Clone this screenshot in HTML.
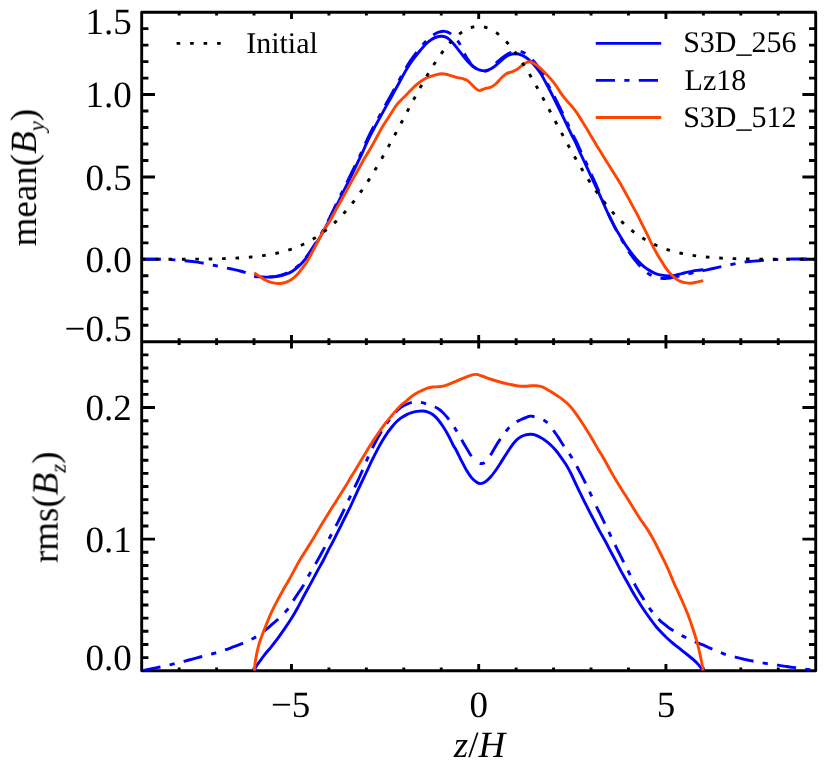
<!DOCTYPE html>
<html><head><meta charset="utf-8"><title>plot</title>
<style>html,body{margin:0;padding:0;background:#fff}svg{display:block}text{text-rendering:geometricPrecision}body{font-family:"Liberation Serif",serif}</style></head>
<body>
<svg width="830" height="763" viewBox="0 0 830 763">
<rect width="830" height="763" fill="#fff"/>
<defs><clipPath id="ct"><rect x="141.70" y="12.20" width="674.00" height="329.50"/></clipPath><clipPath id="cb"><rect x="141.70" y="341.70" width="674.00" height="329.10"/></clipPath></defs>
<g fill="none" stroke="#000" stroke-width="2.90" stroke-linecap="butt">
<rect x="141.70" y="12.20" width="674.00" height="658.60" stroke-linejoin="round"/>
<path d="M141.70 341.70H815.70"/>
<path d="M179.14 12.20v3.40M179.14 338.30v6.80M179.14 670.80v-3.40M216.59 12.20v3.40M216.59 338.30v6.80M216.59 670.80v-3.40M254.03 12.20v3.40M254.03 338.30v6.80M254.03 670.80v-3.40M291.48 12.20v6.80M291.48 334.90v13.60M291.48 670.80v-6.80M328.92 12.20v3.40M328.92 338.30v6.80M328.92 670.80v-3.40M366.37 12.20v3.40M366.37 338.30v6.80M366.37 670.80v-3.40M403.81 12.20v3.40M403.81 338.30v6.80M403.81 670.80v-3.40M441.26 12.20v3.40M441.26 338.30v6.80M441.26 670.80v-3.40M478.70 12.20v6.80M478.70 334.90v13.60M478.70 670.80v-6.80M516.14 12.20v3.40M516.14 338.30v6.80M516.14 670.80v-3.40M553.59 12.20v3.40M553.59 338.30v6.80M553.59 670.80v-3.40M591.03 12.20v3.40M591.03 338.30v6.80M591.03 670.80v-3.40M628.48 12.20v3.40M628.48 338.30v6.80M628.48 670.80v-3.40M665.92 12.20v6.80M665.92 334.90v13.60M665.92 670.80v-6.80M703.37 12.20v3.40M703.37 338.30v6.80M703.37 670.80v-3.40M740.81 12.20v3.40M740.81 338.30v6.80M740.81 670.80v-3.40M778.26 12.20v3.40M778.26 338.30v6.80M778.26 670.80v-3.40M141.70 325.22h6.70M815.70 325.22h-6.70M141.70 308.75h6.70M815.70 308.75h-6.70M141.70 292.27h6.70M815.70 292.27h-6.70M141.70 275.80h6.70M815.70 275.80h-6.70M141.70 259.32h13.30M815.70 259.32h-13.30M141.70 242.85h6.70M815.70 242.85h-6.70M141.70 226.37h6.70M815.70 226.37h-6.70M141.70 209.90h6.70M815.70 209.90h-6.70M141.70 193.42h6.70M815.70 193.42h-6.70M141.70 176.95h13.30M815.70 176.95h-13.30M141.70 160.47h6.70M815.70 160.47h-6.70M141.70 144.00h6.70M815.70 144.00h-6.70M141.70 127.52h6.70M815.70 127.52h-6.70M141.70 111.05h6.70M815.70 111.05h-6.70M141.70 94.57h13.30M815.70 94.57h-13.30M141.70 78.10h6.70M815.70 78.10h-6.70M141.70 61.62h6.70M815.70 61.62h-6.70M141.70 45.15h6.70M815.70 45.15h-6.70M141.70 28.67h6.70M815.70 28.67h-6.70M141.70 657.64h6.70M815.70 657.64h-6.70M141.70 644.47h6.70M815.70 644.47h-6.70M141.70 631.31h6.70M815.70 631.31h-6.70M141.70 618.14h6.70M815.70 618.14h-6.70M141.70 604.98h6.70M815.70 604.98h-6.70M141.70 591.82h6.70M815.70 591.82h-6.70M141.70 578.65h6.70M815.70 578.65h-6.70M141.70 565.49h6.70M815.70 565.49h-6.70M141.70 552.32h6.70M815.70 552.32h-6.70M141.70 539.16h13.30M815.70 539.16h-13.30M141.70 526.00h6.70M815.70 526.00h-6.70M141.70 512.83h6.70M815.70 512.83h-6.70M141.70 499.67h6.70M815.70 499.67h-6.70M141.70 486.50h6.70M815.70 486.50h-6.70M141.70 473.34h6.70M815.70 473.34h-6.70M141.70 460.18h6.70M815.70 460.18h-6.70M141.70 447.01h6.70M815.70 447.01h-6.70M141.70 433.85h6.70M815.70 433.85h-6.70M141.70 420.68h6.70M815.70 420.68h-6.70M141.70 407.52h13.30M815.70 407.52h-13.30M141.70 394.36h6.70M815.70 394.36h-6.70M141.70 381.19h6.70M815.70 381.19h-6.70M141.70 368.03h6.70M815.70 368.03h-6.70M141.70 354.86h6.70M815.70 354.86h-6.70"/>
</g>
<g fill="none" stroke-width="2.90" stroke-linejoin="round" clip-path="url(#ct)">
<path d="M254.30 276.60C255.33 276.65 258.55 276.82 260.50 276.90C262.45 276.98 264.25 277.07 266.00 277.10C267.75 277.13 269.30 277.18 271.00 277.10C272.70 277.02 274.45 276.85 276.20 276.60C277.95 276.35 279.75 276.03 281.50 275.60C283.25 275.17 284.97 274.70 286.70 274.00C288.43 273.30 290.15 272.45 291.90 271.40C293.65 270.35 295.45 269.18 297.20 267.70C298.95 266.22 300.65 264.42 302.40 262.50C304.15 260.58 305.95 258.57 307.70 256.20C309.45 253.83 311.15 250.95 312.90 248.30C314.65 245.65 316.45 243.15 318.20 240.30C319.95 237.45 321.53 234.58 323.40 231.20C325.27 227.82 327.43 223.83 329.40 220.00C331.37 216.17 333.18 212.27 335.20 208.20C337.22 204.13 339.58 199.45 341.50 195.60C343.42 191.75 344.97 188.60 346.70 185.10C348.43 181.60 350.15 178.18 351.90 174.60C353.65 171.02 355.45 167.27 357.20 163.60C358.95 159.93 360.63 156.45 362.40 152.60C364.17 148.75 365.93 144.40 367.80 140.50C369.67 136.60 371.40 133.35 373.60 129.20C375.80 125.05 378.90 119.45 381.00 115.60C383.10 111.75 384.45 109.25 386.20 106.10C387.95 102.95 390.03 99.35 391.50 96.70C392.97 94.05 393.63 92.70 395.00 90.20C396.37 87.70 397.92 84.93 399.70 81.70C401.48 78.47 403.57 74.38 405.70 70.80C407.83 67.22 410.00 63.68 412.50 60.20C415.00 56.72 418.42 52.63 420.70 49.90C422.98 47.17 424.40 45.53 426.20 43.80C428.00 42.07 429.75 40.63 431.50 39.50C433.25 38.37 434.97 37.53 436.70 37.00C438.43 36.47 440.15 36.17 441.90 36.30C443.65 36.43 445.45 36.77 447.20 37.80C448.95 38.83 450.65 40.67 452.40 42.50C454.15 44.33 455.95 46.62 457.70 48.80C459.45 50.98 461.15 53.42 462.90 55.60C464.65 57.78 466.45 60.05 468.20 61.90C469.95 63.75 471.43 65.32 473.40 66.70C475.37 68.08 477.95 69.52 480.00 70.20C482.05 70.88 483.87 71.03 485.70 70.80C487.53 70.57 489.25 69.75 491.00 68.80C492.75 67.85 494.45 66.50 496.20 65.10C497.95 63.70 499.75 61.88 501.50 60.40C503.25 58.92 504.97 57.25 506.70 56.20C508.43 55.15 510.33 54.50 511.90 54.10C513.47 53.70 514.70 53.72 516.10 53.80C517.50 53.88 518.72 54.02 520.30 54.60C521.88 55.18 523.85 56.15 525.60 57.30C527.35 58.45 529.05 59.82 530.80 61.50C532.55 63.18 534.40 65.32 536.10 67.40C537.80 69.48 539.43 71.57 541.00 74.00C542.57 76.43 543.88 79.00 545.50 82.00C547.12 85.00 548.95 88.58 550.70 92.00C552.45 95.42 554.25 99.00 556.00 102.50C557.75 106.00 559.45 109.42 561.20 113.00C562.95 116.58 564.75 120.33 566.50 124.00C568.25 127.67 570.20 131.92 571.70 135.00C573.20 138.08 574.00 139.33 575.50 142.50C577.00 145.67 578.95 150.20 580.70 154.00C582.45 157.80 584.25 161.53 586.00 165.30C587.75 169.07 589.45 172.82 591.20 176.60C592.95 180.38 594.75 184.20 596.50 188.00C598.25 191.80 600.05 195.73 601.70 199.40C603.35 203.07 604.93 206.80 606.40 210.00C607.87 213.20 608.95 215.50 610.50 218.60C612.05 221.70 613.95 225.45 615.70 228.60C617.45 231.75 619.25 234.62 621.00 237.50C622.75 240.38 624.45 243.28 626.20 245.90C627.95 248.52 629.75 250.93 631.50 253.20C633.25 255.47 634.97 257.57 636.70 259.50C638.43 261.43 640.15 263.22 641.90 264.80C643.65 266.38 645.45 267.78 647.20 269.00C648.95 270.22 650.65 271.22 652.40 272.10C654.15 272.98 655.95 273.75 657.70 274.30C659.45 274.85 661.15 275.13 662.90 275.40C664.65 275.67 666.45 275.88 668.20 275.90C669.95 275.92 671.23 275.85 673.40 275.50C675.57 275.15 679.02 274.32 681.20 273.80C683.38 273.28 684.75 272.82 686.50 272.40C688.25 271.98 689.97 271.63 691.70 271.30C693.43 270.97 694.97 270.68 696.90 270.40C698.83 270.12 702.23 269.73 703.30 269.60" stroke="#0000ff"/>
<path d="M141.70 259.10C142.46 259.10 143.59 259.10 144.95 259.09C146.31 259.09 147.90 259.08 149.60 259.08C151.30 259.08 153.10 259.08 154.88 259.10C156.65 259.12 158.40 259.15 160.00 259.20C161.60 259.25 163.23 259.31 164.88 259.38C166.53 259.44 168.21 259.52 169.89 259.61C171.58 259.70 173.27 259.80 174.96 259.92C176.65 260.03 178.33 260.16 180.00 260.30C181.67 260.44 183.33 260.59 185.00 260.75C186.67 260.91 188.33 261.08 190.00 261.27C191.67 261.46 193.33 261.66 195.00 261.88C196.67 262.10 198.33 262.34 200.00 262.60C201.67 262.86 203.33 263.16 205.00 263.47C206.67 263.79 208.33 264.12 210.00 264.47C211.67 264.82 213.33 265.17 215.00 265.53C216.67 265.89 218.33 266.25 220.00 266.60C221.67 266.95 223.40 267.31 225.14 267.67C226.89 268.03 228.65 268.39 230.38 268.76C232.10 269.13 233.80 269.50 235.42 269.88C237.04 270.25 238.58 270.62 240.00 271.00C241.42 271.38 242.79 271.79 244.10 272.22C245.41 272.65 246.66 273.09 247.84 273.51C249.03 273.94 250.14 274.34 251.17 274.70C252.20 275.06 253.15 275.37 254.00 275.60C254.85 275.83 255.51 276.00 256.06 276.12C256.61 276.24 257.05 276.32 257.47 276.38C257.89 276.43 258.29 276.46 258.77 276.49C259.24 276.52 259.79 276.55 260.50 276.60C261.21 276.65 262.06 276.69 262.97 276.73C263.88 276.76 264.86 276.78 265.83 276.80C266.80 276.82 267.77 276.83 268.65 276.83C269.54 276.83 270.35 276.82 271.00 276.80C271.65 276.78 272.20 276.76 272.67 276.72C273.14 276.68 273.55 276.64 273.93 276.59C274.30 276.54 274.65 276.48 275.02 276.41C275.38 276.35 275.76 276.27 276.20 276.20C276.64 276.12 277.08 276.04 277.52 275.96C277.96 275.87 278.41 275.77 278.85 275.68C279.29 275.58 279.74 275.47 280.18 275.36C280.62 275.24 281.06 275.12 281.50 275.00C281.94 274.88 282.37 274.75 282.81 274.61C283.24 274.48 283.67 274.34 284.11 274.19C284.54 274.05 284.97 273.89 285.40 273.73C285.83 273.56 286.27 273.39 286.70 273.20C287.13 273.01 287.57 272.82 288.00 272.62C288.43 272.41 288.86 272.20 289.29 271.98C289.73 271.76 290.16 271.53 290.59 271.28C291.03 271.03 291.46 270.77 291.90 270.50C292.34 270.23 292.78 269.94 293.22 269.64C293.66 269.34 294.11 269.03 294.55 268.70C294.99 268.38 295.44 268.04 295.88 267.69C296.32 267.34 296.76 266.98 297.20 266.60C297.64 266.23 298.07 265.84 298.50 265.44C298.94 265.04 299.37 264.62 299.80 264.20C300.23 263.78 300.66 263.34 301.10 262.89C301.53 262.44 301.96 261.98 302.40 261.50C302.84 261.02 303.28 260.54 303.72 260.05C304.16 259.55 304.61 259.05 305.05 258.53C305.49 258.00 305.94 257.47 306.38 256.92C306.82 256.36 307.26 255.79 307.70 255.20C308.14 254.61 308.57 253.99 309.00 253.35C309.44 252.71 309.87 252.05 310.30 251.38C310.73 250.70 311.16 250.02 311.60 249.34C312.03 248.66 312.46 247.98 312.90 247.30C313.34 246.62 313.78 245.95 314.22 245.28C314.66 244.60 315.11 243.92 315.55 243.24C315.99 242.55 316.44 241.86 316.88 241.15C317.32 240.45 317.76 239.73 318.20 239.00C318.64 238.27 319.06 237.53 319.49 236.79C319.91 236.05 320.33 235.31 320.76 234.54C321.18 233.78 321.61 233.00 322.05 232.20C322.48 231.39 322.93 230.56 323.40 229.70C323.87 228.84 324.35 227.94 324.85 227.01C325.34 226.09 325.85 225.14 326.36 224.18C326.87 223.21 327.39 222.23 327.90 221.25C328.40 220.27 328.91 219.28 329.40 218.30C329.89 217.32 330.37 216.33 330.85 215.34C331.33 214.35 331.81 213.35 332.28 212.34C332.76 211.33 333.23 210.31 333.72 209.29C334.20 208.27 334.70 207.24 335.20 206.20C335.70 205.16 336.23 204.09 336.77 203.00C337.30 201.91 337.85 200.81 338.39 199.71C338.93 198.62 339.47 197.53 339.99 196.47C340.51 195.41 341.02 194.38 341.50 193.40C341.98 192.42 342.44 191.48 342.88 190.57C343.32 189.66 343.75 188.78 344.17 187.91C344.59 187.03 345.01 186.17 345.43 185.31C345.84 184.45 346.27 183.58 346.70 182.70C347.13 181.82 347.57 180.94 348.00 180.07C348.43 179.20 348.86 178.34 349.29 177.47C349.73 176.60 350.16 175.73 350.59 174.86C351.03 173.98 351.46 173.10 351.90 172.20C352.34 171.30 352.78 170.40 353.22 169.49C353.66 168.57 354.11 167.65 354.55 166.73C354.99 165.81 355.44 164.88 355.88 163.96C356.32 163.04 356.76 162.12 357.20 161.20C357.64 160.28 358.07 159.38 358.50 158.48C358.93 157.57 359.36 156.67 359.79 155.77C360.22 154.86 360.65 153.95 361.09 153.03C361.52 152.10 361.96 151.16 362.40 150.20C362.84 149.24 363.28 148.24 363.73 147.23C364.17 146.22 364.61 145.20 365.06 144.17C365.51 143.14 365.96 142.11 366.42 141.09C366.87 140.08 367.33 139.07 367.80 138.10C368.27 137.12 368.73 136.19 369.18 135.27C369.64 134.35 370.10 133.45 370.57 132.54C371.05 131.63 371.53 130.72 372.03 129.77C372.53 128.82 373.05 127.84 373.60 126.80C374.15 125.76 374.76 124.63 375.39 123.47C376.02 122.30 376.68 121.09 377.34 119.89C377.99 118.69 378.65 117.50 379.27 116.37C379.89 115.23 380.48 114.16 381.00 113.20C381.52 112.24 382.00 111.36 382.45 110.53C382.90 109.71 383.32 108.94 383.73 108.19C384.14 107.44 384.54 106.71 384.94 105.97C385.35 105.23 385.76 104.49 386.20 103.70C386.64 102.91 387.10 102.10 387.56 101.28C388.02 100.45 388.49 99.62 388.96 98.81C389.42 98.00 389.87 97.20 390.30 96.44C390.73 95.68 391.13 94.96 391.50 94.30C391.87 93.64 392.18 93.06 392.47 92.52C392.76 91.98 393.03 91.49 393.29 91.00C393.55 90.51 393.81 90.02 394.08 89.50C394.36 88.98 394.66 88.43 395.00 87.80C395.34 87.17 395.69 86.52 396.06 85.85C396.43 85.18 396.80 84.49 397.19 83.78C397.58 83.06 397.99 82.32 398.41 81.56C398.82 80.80 399.25 80.01 399.70 79.20C400.15 78.39 400.61 77.52 401.09 76.63C401.57 75.73 402.06 74.81 402.57 73.87C403.07 72.93 403.59 71.99 404.11 71.05C404.64 70.12 405.17 69.19 405.70 68.30C406.23 67.41 406.77 66.53 407.31 65.65C407.85 64.77 408.40 63.90 408.96 63.03C409.52 62.16 410.09 61.29 410.68 60.42C411.27 59.55 411.88 58.68 412.50 57.80C413.12 56.92 413.81 55.99 414.51 55.05C415.22 54.11 415.96 53.16 416.68 52.23C417.41 51.30 418.13 50.39 418.81 49.54C419.49 48.69 420.13 47.90 420.70 47.20C421.27 46.50 421.79 45.88 422.27 45.31C422.75 44.73 423.20 44.22 423.63 43.73C424.06 43.24 424.48 42.79 424.90 42.34C425.32 41.89 425.75 41.45 426.20 41.00C426.65 40.55 427.10 40.11 427.54 39.69C427.99 39.27 428.43 38.86 428.87 38.47C429.31 38.08 429.75 37.70 430.19 37.34C430.62 36.98 431.06 36.63 431.50 36.30C431.94 35.97 432.36 35.65 432.78 35.34C433.20 35.03 433.62 34.74 434.04 34.46C434.46 34.19 434.88 33.92 435.33 33.68C435.77 33.44 436.22 33.21 436.70 33.00C437.18 32.79 437.68 32.58 438.20 32.39C438.72 32.19 439.26 32.01 439.80 31.85C440.34 31.69 440.88 31.56 441.42 31.46C441.96 31.37 442.49 31.31 443.00 31.30C443.51 31.29 444.03 31.32 444.54 31.39C445.06 31.46 445.57 31.56 446.08 31.69C446.59 31.83 447.09 31.99 447.58 32.17C448.07 32.36 448.54 32.57 449.00 32.80C449.46 33.03 449.89 33.29 450.32 33.57C450.74 33.85 451.15 34.16 451.55 34.50C451.95 34.84 452.35 35.20 452.76 35.58C453.16 35.96 453.57 36.37 454.00 36.80C454.43 37.23 454.85 37.65 455.27 38.09C455.70 38.53 456.12 38.99 456.55 39.48C456.98 39.98 457.41 40.51 457.85 41.11C458.29 41.70 458.74 42.36 459.20 43.10C459.66 43.84 460.15 44.74 460.65 45.72C461.14 46.70 461.66 47.76 462.16 48.82C462.67 49.88 463.17 50.94 463.65 51.93C464.13 52.92 464.58 53.84 465.00 54.60C465.42 55.36 465.80 56.04 466.16 56.67C466.53 57.29 466.87 57.85 467.20 58.39C467.53 58.92 467.86 59.42 468.19 59.92C468.52 60.41 468.85 60.90 469.20 61.40C469.55 61.90 469.88 62.39 470.19 62.87C470.51 63.34 470.82 63.80 471.15 64.24C471.47 64.69 471.81 65.11 472.18 65.52C472.55 65.93 472.95 66.33 473.40 66.70C473.85 67.08 474.36 67.45 474.90 67.81C475.45 68.17 476.02 68.52 476.61 68.84C477.19 69.17 477.78 69.47 478.36 69.73C478.93 69.99 479.49 70.22 480.00 70.40C480.51 70.58 481.01 70.73 481.50 70.85C481.98 70.96 482.46 71.05 482.93 71.10" stroke="#0000ff" stroke-dasharray="19.2 9.3 5.2 9.3" stroke-dashoffset="0.00"/>
<path d="M482.93 71.10C483.40 71.15 483.86 71.17 484.32 71.15C484.78 71.14 485.24 71.09 485.70 71.00C486.16 70.91 486.60 70.79 487.04 70.63C487.48 70.47 487.92 70.28 488.35 70.05C488.78 69.82 489.22 69.56 489.66 69.27C490.10 68.98 490.54 68.65 491.00 68.30C491.46 67.95 491.93 67.51 492.42 67.03C492.90 66.54 493.39 66.02 493.88 65.48C494.37 64.95 494.86 64.41 495.33 63.90C495.80 63.39 496.26 62.91 496.70 62.50C497.14 62.09 497.55 61.72 497.95 61.37C498.36 61.02 498.74 60.70 499.13 60.38C499.52 60.07 499.90 59.76 500.29 59.45C500.68 59.14 501.08 58.83 501.50 58.50C501.92 58.17 502.35 57.83 502.78 57.48C503.22 57.13 503.66 56.78 504.11 56.44C504.55 56.10 504.99 55.77 505.43 55.46C505.86 55.15 506.29 54.86 506.70 54.60C507.11 54.34 507.52 54.10 507.91 53.88C508.31 53.66 508.70 53.45 509.09 53.26C509.47 53.07 509.86 52.90 510.24 52.74C510.63 52.58 511.01 52.43 511.40 52.30C511.79 52.17 512.18 52.05 512.57 51.95C512.96 51.85 513.36 51.77 513.74 51.70C514.13 51.63 514.52 51.57 514.89 51.52C515.27 51.47 515.64 51.43 516.00 51.40C516.36 51.37 516.71 51.34 517.05 51.33C517.40 51.32 517.74 51.32 518.07 51.33C518.40 51.34 518.73 51.36 519.05 51.39C519.37 51.42 519.69 51.45 520.00 51.50C520.31 51.55 520.60 51.59 520.89 51.64C521.17 51.69 521.44 51.75 521.72 51.82C521.99 51.89 522.27 51.98 522.57 52.09C522.86 52.20 523.17 52.33 523.50 52.50C523.83 52.67 524.18 52.86 524.55 53.06C524.91 53.27 525.28 53.51 525.66 53.76C526.04 54.01 526.43 54.28 526.82 54.57C527.21 54.86 527.61 55.17 528.00 55.50C528.39 55.83 528.79 56.19 529.19 56.56C529.59 56.94 530.00 57.34 530.41 57.76C530.82 58.17 531.24 58.60 531.65 59.05C532.07 59.49 532.48 59.94 532.90 60.40C533.32 60.86 533.73 61.33 534.15 61.81C534.57 62.29 534.99 62.78 535.42 63.29C535.84 63.79 536.27 64.31 536.70 64.85C537.13 65.38 537.56 65.93 538.00 66.50C538.44 67.07 538.90 67.66 539.38 68.26C539.85 68.87 540.33 69.50 540.81 70.13C541.28 70.77 541.75 71.41 542.18 72.06C542.62 72.70 543.03 73.35 543.40 74.00C543.77 74.65 544.07 75.28 544.35 75.92C544.62 76.55 544.87 77.19 545.11 77.84C545.36 78.49 545.60 79.16 545.87 79.85C546.14 80.54 546.44 81.25 546.80 82.00C547.16 82.75 547.55 83.54 547.97 84.35C548.39 85.16 548.83 85.99 549.28 86.84C549.73 87.69 550.19 88.55 550.65 89.42C551.11 90.28 551.56 91.15 552.00 92.00C552.44 92.85 552.88 93.72 553.32 94.59C553.76 95.46 554.21 96.34 554.65 97.22C555.09 98.10 555.54 98.98 555.98 99.86C556.42 100.74 556.86 101.62 557.30 102.50C557.74 103.38 558.17 104.24 558.60 105.11C559.04 105.98 559.47 106.85 559.90 107.72C560.33 108.59 560.76 109.46 561.20 110.34C561.63 111.22 562.06 112.10 562.50 113.00C562.94 113.90 563.38 114.80 563.82 115.71C564.26 116.63 564.71 117.55 565.15 118.47C565.59 119.39 566.04 120.32 566.48 121.24C566.92 122.16 567.36 123.08 567.80 124.00C568.24 124.92 568.69 125.87 569.14 126.83C569.59 127.79 570.05 128.77 570.49 129.72C570.94 130.67 571.38 131.61 571.80 132.50C572.22 133.39 572.62 134.23 573.00 135.00C573.38 135.77 573.71 136.43 574.02 137.03C574.33 137.63 574.61 138.17 574.90 138.72C575.19 139.27 575.47 139.82 575.78 140.43C576.09 141.04 576.42 141.71 576.80 142.50C577.17 143.29 577.58 144.17 578.00 145.10C578.42 146.03 578.86 147.01 579.31 148.01C579.75 149.01 580.21 150.04 580.66 151.05C581.11 152.05 581.56 153.05 582.00 154.00C582.44 154.95 582.88 155.90 583.32 156.84C583.77 157.78 584.21 158.72 584.66 159.66C585.10 160.60 585.55 161.54 585.99 162.48C586.43 163.42 586.87 164.36 587.30 165.30C587.73 166.24 588.16 167.18 588.59 168.12C589.02 169.06 589.44 170.00 589.86 170.94C590.29 171.88 590.71 172.83 591.13 173.77C591.55 174.71 591.97 175.65 592.40 176.60C592.83 177.55 593.25 178.49 593.68 179.44C594.11 180.39 594.54 181.34 594.97 182.29C595.40 183.24 595.82 184.20 596.25 185.15C596.67 186.10 597.09 187.05 597.50 188.00C597.91 188.95 598.32 189.91 598.73 190.87C599.14 191.83 599.55 192.79 599.95 193.75C600.35 194.71 600.75 195.66 601.14 196.61C601.53 197.55 601.92 198.48 602.30 199.40C602.68 200.32 603.05 201.24 603.42 202.16C603.79 203.08 604.15 203.99 604.51 204.89C604.86 205.79 605.22 206.68 605.56 207.53C605.91 208.39 606.26 209.21 606.60 210.00C606.94 210.79 607.26 211.50 607.57 212.18C607.88 212.86 608.19 213.50 608.49 214.14C608.80 214.79 609.11 215.43 609.44 216.11C609.77 216.79 610.12 217.51 610.50 218.30C610.88 219.09 611.28 219.95 611.71 220.83C612.13 221.72 612.57 222.65 613.01 223.57C613.46 224.50 613.91 225.44 614.36 226.35C614.81 227.27 615.26 228.16 615.70 229.00C616.14 229.84 616.58 230.66 617.02 231.47C617.46 232.28 617.91 233.07 618.35 233.86C618.79 234.64 619.24 235.42 619.68 236.19C620.12 236.96 620.56 237.73 621.00 238.50C621.44 239.27 621.87 240.04 622.30 240.81C622.74 241.58 623.17 242.34 623.60 243.09C624.03 243.85 624.46 244.60 624.90 245.33C625.33 246.07 625.76 246.79 626.20 247.50C626.64 248.21 627.08 248.91 627.52 249.60C627.96 250.29 628.41 250.97 628.85 251.64C629.29 252.31 629.74 252.97 630.18 253.61C630.62 254.26 631.06 254.89 631.50 255.50C631.94 256.11 632.37 256.71 632.81 257.29C633.24 257.87 633.67 258.43 634.11 258.99C634.54 259.54 634.97 260.08 635.40 260.62C635.83 261.15 636.27 261.68 636.70 262.20C637.13 262.72 637.57 263.23 638.00 263.74C638.43 264.24 638.86 264.73 639.29 265.22C639.73 265.70 640.16 266.18 640.59 266.64C641.03 267.11 641.46 267.56 641.90 268.00C642.34 268.44 642.78 268.88 643.22 269.31C643.66 269.74 644.11 270.16 644.55 270.56C644.99 270.97 645.44 271.36 645.88 271.74C646.32 272.11 646.76 272.47 647.20 272.80C647.64 273.13 648.07 273.45 648.50 273.75C648.94 274.04 649.37 274.32 649.80 274.59C650.23 274.85 650.66 275.10 651.10 275.34C651.53 275.57 651.96 275.79 652.40 276.00C652.84 276.21 653.28 276.40 653.72 276.57C654.16 276.75 654.61 276.91 655.05 277.06C655.49 277.20 655.94 277.34 656.38 277.46C656.82 277.58 657.26 277.70 657.70 277.80C658.14 277.90 658.57 277.99 659.00 278.07C659.44 278.15 659.87 278.22 660.30 278.28C660.73 278.33 661.16 278.38 661.60 278.41C662.03 278.45 662.46 278.48 662.90 278.50C663.34 278.52 663.78 278.53 664.22 278.53C664.66 278.53 665.11 278.52 665.55 278.50C665.99 278.48 666.44 278.45 666.88 278.42C667.32 278.39 667.76 278.35 668.20 278.30C668.64 278.25 669.06 278.20 669.47 278.14C669.89 278.08 670.30 278.01 670.72 277.94C671.14 277.86 671.56 277.78 672.00 277.69C672.45 277.60 672.91 277.50 673.40 277.40C673.89 277.30 674.41 277.18 674.95 277.05C675.49 276.92 676.05 276.78 676.62 276.64C677.18 276.50 677.76 276.36 678.32 276.22C678.89 276.07 679.45 275.93 680.00 275.80C680.55 275.67 681.10 275.53 681.66 275.39C682.22 275.25 682.78 275.11 683.34 274.97C683.89 274.84 684.44 274.70 684.97 274.57C685.50 274.44 686.01 274.32 686.50 274.20C686.99 274.08 687.45 273.98 687.89 273.88C688.33 273.78 688.76 273.68 689.18 273.59C689.60 273.49 690.01 273.40 690.43 273.30C690.85 273.21 691.27 273.11 691.70 273.00C692.13 272.89 692.56 272.77 692.97 272.65C693.39 272.53 693.81 272.41 694.23 272.29C694.65 272.16 695.08 272.04 695.52 271.93C695.96 271.81 696.42 271.70 696.90 271.60C697.38 271.50 697.76 271.44 698.12 271.39C698.49 271.34 698.84 271.31 699.25 271.26C699.66 271.21 700.15 271.15 700.78 271.04C701.41 270.94 702.19 270.80 703.20 270.60C704.21 270.40 705.53 270.12 707.02 269.80C708.51 269.48 710.17 269.11 711.86 268.74C713.54 268.37 715.26 268.00 716.86 267.64C718.47 267.29 719.96 266.97 721.20 266.70C722.44 266.43 723.55 266.19 724.59 265.97C725.62 265.75 726.57 265.54 727.49 265.34C728.41 265.15 729.29 264.96 730.20 264.77C731.10 264.58 732.02 264.40 733.00 264.20C733.98 264.00 734.90 263.81 735.79 263.61C736.69 263.42 737.56 263.23 738.47 263.04C739.39 262.86 740.34 262.68 741.37 262.50C742.41 262.33 743.53 262.16 744.80 262.00C746.07 261.84 747.55 261.69 749.14 261.54C750.72 261.39 752.42 261.25 754.11 261.11C755.81 260.98 757.50 260.85 759.08 260.73C760.67 260.61 762.14 260.50 763.40 260.40C764.66 260.30 765.75 260.21 766.75 260.14C767.74 260.06 768.64 259.99 769.51 259.93C770.39 259.87 771.23 259.81 772.12 259.76C773.01 259.71 773.95 259.65 775.00 259.60C776.05 259.55 777.09 259.49 778.14 259.44C779.19 259.40 780.26 259.35 781.36 259.31C782.46 259.26 783.60 259.22 784.80 259.19C786.00 259.16 787.26 259.12 788.60 259.10C789.94 259.08 791.49 259.06 793.14 259.04C794.78 259.03 796.51 259.02 798.22 259.01C799.93 259.01 801.61 259.00 803.14 259.00C804.68 259.00 806.07 259.00 807.20 259.00C808.33 259.00 809.34 259.01 810.23 259.01C811.13 259.02 811.92 259.03 812.61 259.04C813.30 259.06 813.90 259.07 814.41 259.08C814.92 259.09 815.35 259.10 815.70 259.10" stroke="#0000ff" stroke-dasharray="19.2 9.3 5.2 9.3" stroke-dashoffset="27.26"/>
<path d="M254.20 272.90C255.25 273.60 258.58 275.87 260.50 277.10C262.42 278.33 263.95 279.42 265.70 280.30C267.45 281.18 269.25 281.88 271.00 282.40C272.75 282.92 274.63 283.22 276.20 283.40C277.77 283.58 278.83 283.67 280.40 283.50C281.97 283.33 283.68 283.12 285.60 282.40C287.52 281.68 289.97 280.52 291.90 279.20C293.83 277.88 295.45 276.33 297.20 274.50C298.95 272.67 300.65 270.55 302.40 268.20C304.15 265.85 305.95 263.28 307.70 260.40C309.45 257.52 311.15 254.13 312.90 250.90C314.65 247.67 316.45 244.32 318.20 241.00C319.95 237.68 321.37 234.50 323.40 231.00C325.43 227.50 328.27 223.63 330.40 220.00C332.53 216.37 334.35 212.57 336.20 209.20C338.05 205.83 339.75 202.95 341.50 199.80C343.25 196.65 344.97 193.45 346.70 190.30C348.43 187.15 350.15 184.03 351.90 180.90C353.65 177.77 355.45 174.65 357.20 171.50C358.95 168.35 360.65 165.07 362.40 162.00C364.15 158.93 365.95 156.07 367.70 153.10C369.45 150.13 371.20 147.22 372.90 144.20C374.60 141.18 376.28 137.95 377.90 135.00C379.52 132.05 380.68 129.67 382.60 126.50C384.52 123.33 387.13 119.50 389.40 116.00C391.67 112.50 394.28 108.13 396.20 105.50C398.12 102.87 399.23 101.95 400.90 100.20C402.57 98.45 404.52 96.70 406.20 95.00C407.88 93.30 409.37 91.63 411.00 90.00C412.63 88.37 414.25 86.72 416.00 85.20C417.75 83.68 419.83 82.05 421.50 80.90C423.17 79.75 424.58 79.00 426.00 78.30C427.42 77.60 428.22 77.32 430.00 76.70C431.78 76.08 434.72 75.08 436.70 74.60C438.68 74.12 440.15 73.82 441.90 73.80C443.65 73.78 445.45 74.12 447.20 74.50C448.95 74.88 450.65 75.57 452.40 76.10C454.15 76.63 455.95 77.27 457.70 77.70C459.45 78.13 461.33 78.27 462.90 78.70C464.47 79.13 465.70 79.42 467.10 80.30C468.50 81.18 469.98 82.75 471.30 84.00C472.62 85.25 473.65 86.70 475.00 87.80C476.35 88.90 477.78 90.45 479.40 90.60C481.02 90.75 482.77 89.28 484.70 88.70C486.63 88.12 489.08 87.97 491.00 87.10C492.92 86.23 494.45 85.07 496.20 83.50C497.95 81.93 499.75 79.37 501.50 77.70C503.25 76.03 504.97 74.47 506.70 73.50C508.43 72.53 510.15 72.60 511.90 71.90C513.65 71.20 515.45 70.43 517.20 69.30C518.95 68.17 520.83 66.23 522.40 65.10C523.97 63.97 525.28 63.05 526.60 62.50C527.92 61.95 528.90 61.55 530.30 61.80C531.70 62.05 533.35 62.93 535.00 64.00C536.65 65.07 538.45 66.63 540.20 68.20C541.95 69.77 543.75 71.62 545.50 73.40C547.25 75.18 548.95 76.85 550.70 78.90C552.45 80.95 554.25 83.25 556.00 85.70C557.75 88.15 559.45 91.15 561.20 93.60C562.95 96.05 564.75 98.32 566.50 100.40C568.25 102.48 569.97 104.02 571.70 106.10C573.43 108.18 575.15 110.37 576.90 112.90C578.65 115.43 580.45 118.48 582.20 121.30C583.95 124.12 585.90 127.30 587.40 129.80C588.90 132.30 589.68 133.73 591.20 136.30C592.72 138.87 594.75 142.32 596.50 145.20C598.25 148.08 599.97 150.80 601.70 153.60C603.43 156.40 605.15 159.20 606.90 162.00C608.65 164.80 610.45 167.60 612.20 170.40C613.95 173.20 615.65 175.92 617.40 178.80C619.15 181.68 620.95 184.65 622.70 187.70C624.45 190.75 626.15 193.87 627.90 197.10C629.65 200.33 631.73 204.38 633.20 207.10C634.67 209.82 635.25 210.60 636.70 213.40C638.15 216.20 640.15 220.40 641.90 223.90C643.65 227.40 645.45 230.82 647.20 234.40C648.95 237.98 650.65 241.97 652.40 245.40C654.15 248.83 656.22 252.43 657.70 255.00C659.18 257.57 660.00 258.68 661.30 260.80C662.60 262.92 663.93 265.50 665.50 267.70C667.07 269.90 668.95 272.15 670.70 274.00C672.45 275.85 674.25 277.53 676.00 278.80C677.75 280.07 679.45 280.92 681.20 281.60C682.95 282.28 684.93 282.63 686.50 282.90C688.07 283.17 688.87 283.33 690.60 283.20C692.33 283.07 694.80 282.53 696.90 282.10C699.00 281.67 702.15 280.85 703.20 280.60" stroke="#ff4500"/>
<path d="M141.70 259.32L143.39 259.31L145.07 259.31L146.76 259.31L148.44 259.31L150.13 259.31L151.81 259.31L153.50 259.31L155.18 259.30L156.87 259.30L158.55 259.30L160.24 259.30L161.92 259.29L163.61 259.29L165.29 259.29L166.98 259.28L168.66 259.28L170.35 259.28L172.03 259.27L173.72 259.27L175.40 259.26L177.09 259.26L178.77 259.25L180.46 259.24L182.14 259.23L183.83 259.22L185.51 259.22L187.20 259.21L188.88 259.19L190.57 259.18L192.25 259.17L193.94 259.16L195.62 259.14L197.31 259.12L198.99 259.11L200.68 259.09L202.36 259.07L204.05 259.05L205.73 259.02L207.42 259.00L209.10 258.97L210.79 258.94L212.47 258.91L214.16 258.87L215.84 258.83L217.53 258.79L219.21 258.75L220.90 258.70L222.58 258.65L224.27 258.60L225.95 258.54L227.64 258.48L229.32 258.41L231.01 258.34L232.69 258.27L234.38 258.19L236.06 258.10L237.75 258.01L239.43 257.91L241.12 257.81L242.80 257.69L244.49 257.57L246.17 257.45L247.86 257.31L249.54 257.17L251.23 257.01L252.91 256.85L254.60 256.68L256.28 256.49L257.97 256.30L259.65 256.09L261.34 255.87L263.02 255.64L264.71 255.40L266.39 255.14L268.08 254.86L269.76 254.57L271.45 254.26L273.13 253.94L274.82 253.60L276.50 253.24L278.19 252.86L279.87 252.46L281.56 252.04L283.24 251.60L284.93 251.13L286.61 250.64L288.30 250.13L289.98 249.59L291.67 249.02L293.35 248.43L295.04 247.81L296.72 247.16L298.41 246.48L300.09 245.77L301.78 245.02L303.46 244.25L305.15 243.44L306.83 242.59L308.52 241.71L310.20 240.79L311.89 239.83L313.57 238.83L315.26 237.80L316.94 236.72L318.62 235.60L320.31 234.44L322.00 233.23L323.68 231.98L325.37 230.68L327.05 229.34L328.74 227.95L330.42 226.51L332.11 225.03L333.79 223.49L335.48 221.91L337.16 220.27L338.85 218.58L340.53 216.85L342.22 215.06L343.90 213.22L345.59 211.32L347.27 209.38L348.96 207.38L350.64 205.33L352.33 203.22L354.01 201.07L355.70 198.86L357.38 196.60L359.07 194.29L360.75 191.92L362.44 189.51L364.12 187.04L365.81 184.53L367.49 181.97L369.18 179.36L370.86 176.71L372.55 174.01L374.23 171.27L375.92 168.48L377.60 165.66L379.29 162.79L380.97 159.89L382.66 156.95L384.34 153.98L386.03 150.98L387.71 147.95L389.40 144.89L391.08 141.81L392.77 138.71L394.45 135.58L396.14 132.44L397.82 129.29L399.51 126.13L401.19 122.95L402.88 119.77L404.56 116.60L406.25 113.42L407.93 110.24L409.62 107.08L411.30 103.92L412.99 100.79L414.67 97.67L416.36 94.57L418.04 91.49L419.73 88.45L421.41 85.44L423.10 82.47L424.78 79.53L426.47 76.64L428.15 73.80L429.84 71.01L431.52 68.27L433.21 65.59L434.89 62.98L436.58 60.43L438.26 57.94L439.95 55.53L441.63 53.20L443.32 50.94L445.00 48.77L446.69 46.68L448.37 44.68L450.06 42.77L451.74 40.95L453.43 39.23L455.11 37.61L456.80 36.09L458.48 34.67L460.17 33.36L461.85 32.16L463.54 31.06L465.22 30.08L466.91 29.21L468.59 28.45L470.28 27.80L471.96 27.28L473.65 26.86L475.33 26.57L477.02 26.39L478.70 26.33L480.39 26.39L482.07 26.57L483.76 26.86L485.44 27.28L487.13 27.80L488.81 28.45L490.50 29.21L492.18 30.08L493.87 31.06L495.55 32.16L497.24 33.36L498.92 34.67L500.61 36.09L502.29 37.61L503.98 39.23L505.66 40.95L507.35 42.77L509.03 44.68L510.72 46.68L512.40 48.77L514.09 50.94L515.77 53.20L517.46 55.53L519.14 57.94L520.83 60.43L522.51 62.98L524.20 65.59L525.88 68.27L527.57 71.01L529.25 73.80L530.94 76.64L532.62 79.53L534.31 82.47L535.99 85.44L537.68 88.45L539.36 91.49L541.04 94.57L542.73 97.67L544.42 100.79L546.10 103.92L547.79 107.08L549.47 110.24L551.16 113.42L552.84 116.60L554.53 119.77L556.21 122.95L557.90 126.13L559.58 129.29L561.27 132.44L562.95 135.58L564.63 138.71L566.32 141.81L568.00 144.89L569.69 147.95L571.38 150.98L573.06 153.98L574.75 156.95L576.43 159.89L578.12 162.79L579.80 165.66L581.49 168.48L583.17 171.27L584.86 174.01L586.54 176.71L588.23 179.36L589.91 181.97L591.60 184.53L593.28 187.04L594.97 189.51L596.65 191.92L598.34 194.29L600.02 196.60L601.71 198.86L603.39 201.07L605.08 203.22L606.76 205.33L608.45 207.38L610.13 209.38L611.82 211.32L613.50 213.22L615.19 215.06L616.87 216.85L618.56 218.58L620.24 220.27L621.92 221.91L623.61 223.49L625.30 225.03L626.98 226.51L628.67 227.95L630.35 229.34L632.04 230.68L633.72 231.98L635.41 233.23L637.09 234.44L638.78 235.60L640.46 236.72L642.14 237.80L643.83 238.83L645.52 239.83L647.20 240.79L648.88 241.71L650.57 242.59L652.25 243.44L653.94 244.25L655.62 245.02L657.31 245.77L659.00 246.48L660.68 247.16L662.37 247.81L664.05 248.43L665.74 249.02L667.42 249.59L669.11 250.13L670.79 250.64L672.48 251.13L674.16 251.60L675.85 252.04L677.53 252.46L679.22 252.86L680.90 253.24L682.59 253.60L684.27 253.94L685.96 254.26L687.64 254.57L689.33 254.86L691.01 255.14L692.70 255.40L694.38 255.64L696.07 255.87L697.75 256.09L699.44 256.30L701.12 256.49L702.81 256.68L704.49 256.85L706.17 257.01L707.86 257.17L709.55 257.31L711.23 257.45L712.92 257.57L714.60 257.69L716.29 257.81L717.97 257.91L719.66 258.01L721.34 258.10L723.03 258.19L724.71 258.27L726.39 258.34L728.08 258.41L729.77 258.48L731.45 258.54L733.13 258.60L734.82 258.65L736.51 258.70L738.19 258.75L739.88 258.79L741.56 258.83L743.25 258.87L744.93 258.91L746.62 258.94L748.30 258.97L749.99 259.00L751.67 259.02L753.36 259.05L755.04 259.07L756.73 259.09L758.41 259.11L760.10 259.12L761.78 259.14L763.47 259.16L765.15 259.17L766.84 259.18L768.52 259.19L770.21 259.21L771.89 259.22L773.58 259.22L775.26 259.23L776.95 259.24L778.63 259.25L780.32 259.26L782.00 259.26L783.68 259.27L785.37 259.27L787.06 259.28L788.74 259.28L790.42 259.28L792.11 259.29L793.80 259.29L795.48 259.29L797.16 259.30L798.85 259.30L800.53 259.30L802.22 259.30L803.90 259.31L805.59 259.31L807.27 259.31L808.96 259.31L810.64 259.31L812.33 259.31L814.01 259.31L815.70 259.32" stroke="#000" stroke-dasharray="3.6 9.8" stroke-dashoffset="0"/>
</g>
<g fill="none" stroke-width="2.90" stroke-linejoin="round" clip-path="url(#cb)">
<path d="M254.30 670.80C254.60 670.08 255.15 668.13 256.10 666.50C257.05 664.87 258.57 662.97 260.00 661.00C261.43 659.03 262.83 657.07 264.70 654.70C266.57 652.33 269.02 649.53 271.20 646.80C273.38 644.07 275.62 641.25 277.80 638.30C279.98 635.35 282.12 632.27 284.30 629.10C286.48 625.93 288.72 622.78 290.90 619.30C293.08 615.82 295.22 612.13 297.40 608.20C299.58 604.27 301.82 599.75 304.00 595.70C306.18 591.65 309.07 586.52 310.50 583.90C311.93 581.28 311.38 582.28 312.60 580.00C313.82 577.72 316.05 573.40 317.80 570.20C319.55 567.00 321.35 564.12 323.10 560.80C324.85 557.48 326.55 553.70 328.30 550.30C330.05 546.90 331.85 543.80 333.60 540.40C335.35 537.00 337.07 533.40 338.80 529.90C340.53 526.40 342.25 522.90 344.00 519.40C345.75 515.90 348.18 511.13 349.30 508.90C350.42 506.67 349.58 508.43 350.70 506.00C351.82 503.57 354.25 498.10 356.00 494.30C357.75 490.50 359.45 486.92 361.20 483.20C362.95 479.48 364.75 475.72 366.50 472.00C368.25 468.28 369.97 464.47 371.70 460.90C373.43 457.33 375.15 453.92 376.90 450.60C378.65 447.28 380.45 443.97 382.20 441.00C383.95 438.03 385.65 435.30 387.40 432.80C389.15 430.30 391.10 427.93 392.70 426.00C394.30 424.07 395.53 422.60 397.00 421.20C398.47 419.80 399.88 418.70 401.50 417.60C403.12 416.50 405.00 415.43 406.70 414.60C408.40 413.77 410.00 413.13 411.70 412.60C413.40 412.07 415.15 411.67 416.90 411.40C418.65 411.13 420.45 410.93 422.20 411.00C423.95 411.07 425.65 411.22 427.40 411.80C429.15 412.38 430.95 413.22 432.70 414.50C434.45 415.78 436.15 417.45 437.90 419.50C439.65 421.55 441.45 424.13 443.20 426.80C444.95 429.47 446.75 432.47 448.40 435.50C450.05 438.53 451.88 442.70 453.10 445.00C454.32 447.30 454.38 446.83 455.70 449.30C457.02 451.77 459.25 456.38 461.00 459.80C462.75 463.22 464.45 466.83 466.20 469.80C467.95 472.77 469.75 475.52 471.50 477.60C473.25 479.68 475.22 481.30 476.70 482.30C478.18 483.30 479.00 483.65 480.40 483.60C481.80 483.55 483.45 483.05 485.10 482.00C486.75 480.95 488.55 479.22 490.30 477.30C492.05 475.38 493.85 472.95 495.60 470.50C497.35 468.05 499.05 465.32 500.80 462.60C502.55 459.88 504.35 456.90 506.10 454.20C507.85 451.50 509.57 448.75 511.30 446.40C513.03 444.05 514.97 441.68 516.50 440.10C518.03 438.52 518.97 437.78 520.50 436.90C522.03 436.02 523.95 435.25 525.70 434.80C527.45 434.35 529.25 434.12 531.00 434.20C532.75 434.28 534.45 434.68 536.20 435.30C537.95 435.92 540.03 437.07 541.50 437.90C542.97 438.73 543.55 439.20 545.00 440.30C546.45 441.40 548.45 442.88 550.20 444.50C551.95 446.12 553.75 447.95 555.50 450.00C557.25 452.05 558.95 454.37 560.70 456.80C562.45 459.23 564.25 461.73 566.00 464.60C567.75 467.47 569.58 470.82 571.20 474.00C572.82 477.18 574.07 480.27 575.70 483.70C577.33 487.13 579.25 491.02 581.00 494.60C582.75 498.18 584.45 501.72 586.20 505.20C587.95 508.68 589.75 512.12 591.50 515.50C593.25 518.88 595.25 522.73 596.70 525.50C598.15 528.27 598.73 529.43 600.20 532.10C601.67 534.77 603.75 538.27 605.50 541.50C607.25 544.73 608.95 548.18 610.70 551.50C612.45 554.82 614.25 558.08 616.00 561.40C617.75 564.72 619.45 568.17 621.20 571.40C622.95 574.63 624.75 577.67 626.50 580.80C628.25 583.93 630.25 587.62 631.70 590.20C633.15 592.78 633.73 593.88 635.20 596.30C636.67 598.72 638.75 602.00 640.50 604.70C642.25 607.40 643.95 609.97 645.70 612.50C647.45 615.03 649.25 617.53 651.00 619.90C652.75 622.27 654.45 624.60 656.20 626.70C657.95 628.80 659.75 630.67 661.50 632.50C663.25 634.33 664.97 636.05 666.70 637.70C668.43 639.35 670.15 640.92 671.90 642.40C673.65 643.88 675.45 645.20 677.20 646.60C678.95 648.00 680.65 649.40 682.40 650.80C684.15 652.20 685.95 653.60 687.70 655.00C689.45 656.40 691.15 657.63 692.90 659.20C694.65 660.77 696.47 662.47 698.20 664.40C699.93 666.33 702.45 669.73 703.30 670.80" stroke="#0000ff"/>
<path d="M141.70 670.80C142.46 670.64 143.59 670.41 144.95 670.14C146.31 669.86 147.90 669.54 149.60 669.19C151.30 668.84 153.10 668.47 154.88 668.10C156.65 667.72 158.40 667.35 160.00 667.00C161.60 666.65 163.23 666.29 164.88 665.92C166.53 665.56 168.21 665.18 169.89 664.80C171.58 664.42 173.27 664.02 174.96 663.62C176.65 663.22 178.33 662.82 180.00 662.40C181.67 661.98 183.33 661.55 185.00 661.11C186.67 660.66 188.33 660.21 190.00 659.75C191.67 659.29 193.33 658.83 195.00 658.37C196.67 657.91 198.33 657.45 200.00 657.00C201.67 656.55 203.33 656.12 205.00 655.69C206.67 655.27 208.33 654.84 210.00 654.41C211.67 653.98 213.33 653.54 215.00 653.08C216.67 652.61 218.33 652.12 220.00 651.60C221.67 651.08 223.40 650.50 225.14 649.91C226.89 649.31 228.65 648.69 230.38 648.06C232.10 647.44 233.80 646.80 235.42 646.19C237.04 645.57 238.58 644.97 240.00 644.40C241.42 643.83 242.75 643.29 244.02 642.76C245.28 642.23 246.48 641.71 247.62 641.19C248.77 640.67 249.86 640.15 250.92 639.62C251.98 639.10 253.00 638.56 254.00 638.00C255.00 637.44 255.90 636.90 256.73 636.36C257.57 635.82 258.35 635.28 259.12 634.73C259.90 634.17 260.66 633.59 261.45 632.98C262.25 632.36 263.08 631.71 264.00 631.00C264.92 630.29 265.88 629.54 266.86 628.76C267.84 627.97 268.85 627.16 269.88 626.31C270.90 625.47 271.93 624.60 272.95 623.71C273.98 622.82 275.00 621.92 276.00 621.00C277.00 620.08 278.07 619.08 279.16 618.05C280.26 617.01 281.36 615.94 282.44 614.88C283.51 613.81 284.55 612.76 285.49 611.77C286.44 610.77 287.29 609.83 288.00 609.00C288.71 608.17 289.27 607.41 289.74 606.71C290.21 606.00 290.59 605.35 290.94 604.72C291.28 604.09 291.59 603.48 291.91 602.87C292.24 602.26 292.58 601.65 293.00 601.00C293.42 600.35 293.83 599.72 294.25 599.09C294.67 598.46 295.08 597.84 295.50 597.22C295.92 596.60 296.33 595.98 296.75 595.36C297.17 594.74 297.58 594.12 298.00 593.50C298.42 592.88 298.82 592.29 299.23 591.71C299.63 591.13 300.03 590.56 300.44 589.97C300.84 589.38 301.26 588.77 301.68 588.12C302.10 587.47 302.54 586.77 303.00 586.00C303.46 585.23 303.89 584.47 304.31 583.68C304.74 582.90 305.17 582.09 305.62 581.22C306.08 580.35 306.57 579.42 307.12 578.39C307.68 577.37 308.29 576.25 309.00 575.00C309.71 573.75 310.53 572.33 311.42 570.81C312.31 569.29 313.27 567.67 314.25 566.00C315.23 564.33 316.23 562.62 317.20 560.94C318.18 559.25 319.12 557.58 320.00 556.00C320.88 554.42 321.73 552.83 322.57 551.25C323.41 549.67 324.24 548.08 325.06 546.50C325.89 544.92 326.70 543.33 327.52 541.75C328.34 540.17 329.17 538.58 330.00 537.00C330.83 535.42 331.67 533.85 332.50 532.30C333.33 530.74 334.17 529.19 335.00 527.62C335.83 526.06 336.67 524.49 337.50 522.89C338.33 521.29 339.17 519.67 340.00 518.00C340.83 516.33 341.67 514.62 342.50 512.89C343.33 511.16 344.17 509.40 345.00 507.62C345.83 505.85 346.67 504.07 347.50 502.30C348.33 500.52 349.17 498.75 350.00 497.00C350.83 495.25 351.67 493.52 352.50 491.80C353.33 490.07 354.17 488.35 355.00 486.62C355.83 484.90 356.67 483.16 357.50 481.39C358.33 479.62 359.17 477.83 360.00 476.00C360.83 474.17 361.67 472.25 362.50 470.30C363.33 468.34 364.17 466.35 365.00 464.38C365.83 462.40 366.67 460.43 367.50 458.52C368.33 456.60 369.17 454.75 370.00 453.00C370.83 451.25 371.67 449.54 372.50 447.88C373.33 446.21 374.17 444.58 375.00 443.00C375.83 441.42 376.67 439.88 377.50 438.38C378.33 436.88 379.17 435.42 380.00 434.00C380.83 432.58 381.67 431.21 382.50 429.88C383.33 428.54 384.17 427.25 385.00 426.00C385.83 424.75 386.67 423.54 387.50 422.38C388.33 421.21 389.17 420.08 390.00 419.00C390.83 417.92 391.67 416.85 392.50 415.83C393.33 414.80 394.17 413.81 395.00 412.88C395.83 411.94 396.67 411.05 397.50 410.23C398.33 409.42 399.17 408.67 400.00 408.00C400.83 407.33 401.71 406.75 402.59 406.23C403.48 405.72 404.38 405.27 405.25 404.88C406.12 404.48 406.98 404.14 407.78 403.83C408.58 403.52 409.33 403.25 410.00 403.00C410.67 402.75 411.27 402.57 411.83 402.44C412.39 402.31 412.90 402.23 413.38 402.17C413.85 402.12 414.30 402.09 414.73 402.07C415.17 402.05 415.58 402.03 416.00 402.00C416.42 401.97 416.73 401.93 417.00 401.90C417.27 401.88 417.50 401.86 417.75 401.86C418.00 401.86 418.27 401.89 418.62 401.94C418.98 401.99 419.42 402.07 420.00 402.20C420.58 402.32 421.29 402.48 422.08 402.67C422.86 402.85 423.73 403.06 424.62 403.30C425.52 403.54 426.45 403.80 427.36 404.08C428.27 404.37 429.17 404.68 430.00 405.00C430.83 405.32 431.67 405.64 432.50 405.96C433.33 406.28 434.17 406.62 435.00 407.00C435.83 407.38 436.67 407.80 437.50 408.29C438.33 408.78 439.17 409.34 440.00 410.00C440.83 410.66 441.71 411.45 442.59 412.32C443.47 413.19 444.36 414.13 445.23 415.11C446.10 416.08 446.96 417.07 447.76 418.04C448.56 419.01 449.32 419.95 450.00 420.80C450.68 421.65 451.28 422.47 451.84 423.28C452.39 424.08 452.90 424.86 453.39 425.65C453.88 426.44 454.34 427.22 454.82 428.02C455.29 428.83 455.78 429.65 456.30 430.50C456.82 431.35 457.36 432.26 457.90 433.20C458.44 434.13 458.98 435.08 459.51 436.03C460.05 436.97 460.57 437.90 461.07 438.79C461.57 439.68 462.05 440.53 462.50 441.30C462.95 442.07 463.35 442.77 463.73 443.44C464.11 444.10 464.47 444.72 464.83 445.33C465.18 445.93 465.52 446.52 465.88 447.13C466.24 447.73 466.60 448.35 467.00 449.00C467.40 449.65 467.81 450.35 468.23 451.05C468.65 451.76 469.07 452.48 469.50 453.18C469.93 453.88 470.35 454.57 470.77 455.22C471.19 455.86 471.60 456.47 472.00 457.00C472.40 457.53 472.78 458.03 473.16 458.50C473.54 458.96 473.91 459.39 474.28 459.79C474.65 460.19 475.02 460.55 475.39 460.89C475.76 461.22 476.12 461.52 476.50 461.80" stroke="#0000ff" stroke-dasharray="19.2 9.3 5.2 9.3" stroke-dashoffset="0.00"/>
<path d="M476.50 461.80C476.88 462.08 477.25 462.33 477.62 462.55C478.00 462.77 478.38 462.96 478.75 463.11C479.12 463.27 479.50 463.39 479.88 463.47C480.25 463.56 480.62 463.60 481.00 463.60C481.38 463.60 481.75 463.57 482.12 463.51C482.49 463.45 482.86 463.35 483.23 463.21C483.60 463.07 483.98 462.88 484.35 462.65C484.73 462.42 485.11 462.14 485.50 461.80C485.89 461.46 486.28 461.05 486.68 460.58C487.08 460.11 487.48 459.59 487.89 459.04C488.29 458.48 488.70 457.90 489.10 457.30C489.50 456.70 489.90 456.10 490.30 455.50C490.70 454.90 491.09 454.27 491.48 453.61C491.87 452.96 492.26 452.27 492.65 451.59C493.04 450.90 493.43 450.21 493.82 449.52C494.21 448.83 494.60 448.15 495.00 447.50C495.40 446.85 495.77 446.22 496.13 445.61C496.50 444.99 496.86 444.39 497.24 443.77C497.61 443.16 498.00 442.54 498.42 441.88C498.84 441.22 499.30 440.54 499.80 439.80C500.30 439.06 500.89 438.22 501.51 437.34C502.13 436.46 502.78 435.53 503.44 434.62C504.10 433.71 504.76 432.81 505.39 431.99C506.01 431.17 506.59 430.42 507.10 429.80C507.61 429.18 508.06 428.66 508.48 428.21C508.90 427.76 509.28 427.37 509.66 427.01C510.03 426.66 510.40 426.33 510.78 426.01C511.16 425.68 511.56 425.36 512.00 425.00C512.44 424.64 512.87 424.30 513.31 423.97C513.75 423.63 514.19 423.31 514.64 423.00C515.10 422.69 515.57 422.38 516.06 422.08C516.55 421.79 517.06 421.49 517.60 421.20C518.14 420.91 518.73 420.61 519.33 420.32C519.94 420.03 520.57 419.74 521.21 419.47C521.85 419.19 522.50 418.93 523.14 418.68C523.77 418.43 524.40 418.20 525.00 418.00C525.60 417.80 526.12 417.55 526.61 417.31C527.11 417.06 527.58 416.82 528.09 416.62C528.59 416.42 529.13 416.27 529.77 416.20C530.40 416.13 531.12 416.15 532.00 416.30C532.88 416.45 533.94 416.67 535.10 416.97C536.27 417.26 537.53 417.63 538.81 418.07C540.09 418.51 541.39 419.02 542.62 419.61C543.84 420.20 545.00 420.86 546.00 421.60C547.00 422.34 547.94 423.24 548.84 424.23C549.74 425.22 550.60 426.31 551.42 427.43C552.24 428.55 553.02 429.70 553.78 430.82C554.54 431.93 555.28 433.02 556.00 434.00C556.72 434.98 557.38 435.94 558.01 436.89C558.63 437.83 559.22 438.76 559.79 439.68C560.37 440.60 560.93 441.52 561.51 442.44C562.09 443.35 562.67 444.27 563.30 445.20C563.92 446.13 564.57 447.06 565.23 447.98C565.89 448.91 566.55 449.84 567.21 450.76C567.87 451.69 568.53 452.61 569.16 453.53C569.80 454.46 570.42 455.38 571.00 456.30C571.58 457.22 572.12 458.10 572.64 458.96C573.15 459.82 573.64 460.67 574.14 461.54C574.63 462.42 575.13 463.31 575.65 464.26C576.16 465.21 576.71 466.21 577.30 467.30C577.89 468.39 578.54 469.60 579.21 470.88C579.89 472.15 580.59 473.49 581.29 474.83C581.99 476.17 582.68 477.52 583.34 478.82C584.00 480.12 584.63 481.36 585.20 482.50C585.77 483.64 586.29 484.72 586.79 485.76C587.29 486.80 587.76 487.80 588.21 488.78C588.67 489.76 589.11 490.73 589.55 491.69C590.00 492.65 590.44 493.62 590.90 494.60C591.36 495.58 591.78 496.51 592.19 497.42C592.61 498.33 593.01 499.22 593.42 500.13C593.83 501.03 594.25 501.96 594.71 502.94" stroke="#0000ff" stroke-dasharray="19.2 9.3 5.2 9.3" stroke-dashoffset="24.92"/>
<path d="M594.71 502.94C595.16 503.93 595.65 504.97 596.20 506.10C596.75 507.23 597.37 508.50 598.03 509.83C598.69 511.17 599.39 512.56 600.09 513.96C600.79 515.36 601.50 516.76 602.16 518.09C602.82 519.41 603.45 520.67 604.00 521.80C604.55 522.92 605.05 523.96 605.52 524.93C605.98 525.90 606.42 526.82 606.84 527.71C607.27 528.61 607.68 529.48 608.10 530.36C608.52 531.25 608.95 532.15 609.40 533.10C609.85 534.05 610.29 534.96 610.71 535.86C611.14 536.76 611.56 537.65 611.99 538.57C612.43 539.48 612.88 540.42 613.35 541.42C613.83 542.41 614.34 543.46 614.90 544.60C615.46 545.74 616.09 547.01 616.76 548.35C617.42 549.69 618.13 551.09 618.83 552.50C619.54 553.91 620.24 555.31 620.92 556.65C621.59 557.99 622.23 559.26 622.80 560.40C623.37 561.54 623.90 562.59 624.40 563.58C624.90 564.57 625.38 565.51 625.84 566.42C626.30 567.33 626.75 568.22 627.21 569.13C627.66 570.03 628.12 570.94 628.60 571.90C629.08 572.86 629.58 573.87 630.08 574.89C630.58 575.91 631.09 576.95 631.59 577.96C632.08 578.97 632.57 579.95 633.02 580.87C633.48 581.79 633.91 582.65 634.30 583.40C634.69 584.15 635.01 584.79 635.31 585.35C635.61 585.92 635.87 586.41 636.13 586.89C636.39 587.37 636.65 587.84 636.94 588.34C637.22 588.84 637.53 589.38 637.90 590.00C638.27 590.62 638.65 591.27 639.05 591.92C639.45 592.58 639.87 593.26 640.30 593.96C640.73 594.65 641.18 595.37 641.65 596.11C642.12 596.85 642.60 597.61 643.10 598.40C643.60 599.19 644.12 600.02 644.65 600.89C645.18 601.76 645.73 602.65 646.30 603.56C646.87 604.46 647.45 605.37 648.05 606.27C648.65 607.17 649.27 608.05 649.90 608.90C650.53 609.75 651.22 610.63 651.93 611.51C652.64 612.39 653.37 613.28 654.11 614.14C654.84 615.00 655.57 615.83 656.28 616.62C656.99 617.41 657.67 618.14 658.30 618.80C658.93 619.46 659.52 620.04 660.09 620.57C660.66 621.11 661.21 621.59 661.74 622.05C662.28 622.51 662.81 622.94 663.35 623.38C663.89 623.81 664.43 624.24 665.00 624.70C665.57 625.16 666.09 625.59 666.61 626.00C667.13 626.42 667.65 626.82 668.18 627.23C668.72 627.63 669.27 628.04 669.88 628.46C670.49 628.88 671.15 629.32 671.90 629.80C672.65 630.27 673.48 630.79 674.36 631.31C675.24 631.84 676.18 632.39 677.14 632.94C678.10 633.49 679.08 634.03 680.05 634.57C681.02 635.10 681.98 635.62 682.90 636.10C683.82 636.58 684.77 637.07 685.73 637.54C686.69 638.02 687.66 638.49 688.62 638.94C689.57 639.39 690.52 639.83 691.42 640.24C692.32 640.65 693.19 641.04 694.00 641.40C694.81 641.76 695.52 642.05 696.19 642.32C696.85 642.58 697.47 642.82 698.09 643.05C698.72 643.28 699.35 643.52 700.03 643.78C700.71 644.05 701.45 644.34 702.30 644.70C703.15 645.06 704.07 645.46 705.04 645.90C706.01 646.33 707.02 646.79 708.06 647.26C709.10 647.73 710.16 648.21 711.21 648.67C712.26 649.13 713.30 649.58 714.30 650.00C715.30 650.42 716.31 650.84 717.32 651.25C718.33 651.67 719.34 652.08 720.35 652.48C721.36 652.88 722.37 653.27 723.38 653.64C724.39 654.02 725.40 654.37 726.40 654.70C727.40 655.03 728.41 655.33 729.40 655.62C730.40 655.90 731.40 656.17 732.40 656.42C733.40 656.68 734.40 656.93 735.40 657.17C736.39 657.41 737.40 657.65 738.40 657.90C739.40 658.15 740.41 658.39 741.42 658.62C742.43 658.85 743.44 659.08 744.45 659.31C745.46 659.53 746.47 659.75 747.48 659.96C748.49 660.18 749.50 660.39 750.50 660.60C751.50 660.81 752.51 661.01 753.50 661.21C754.50 661.42 755.50 661.61 756.50 661.81C757.50 662.00 758.50 662.19 759.50 662.37C760.49 662.55 761.50 662.73 762.50 662.90C763.50 663.07 764.51 663.23 765.52 663.39C766.53 663.54 767.54 663.69 768.55 663.83C769.56 663.98 770.57 664.12 771.58 664.26C772.59 664.41 773.60 664.55 774.60 664.70C775.60 664.85 776.61 665.00 777.60 665.15C778.60 665.30 779.60 665.46 780.60 665.61C781.60 665.76 782.60 665.91 783.60 666.06C784.59 666.21 785.60 666.35 786.60 666.50C787.60 666.65 788.62 666.79 789.65 666.94C790.67 667.08 791.70 667.23 792.73 667.37C793.75 667.51 794.76 667.65 795.76 667.79C796.76 667.93 797.75 668.07 798.70 668.20C799.65 668.33 800.63 668.47 801.60 668.61C802.57 668.74 803.53 668.88 804.47 669.01C805.40 669.14 806.31 669.27 807.15 669.39C808.00 669.50 808.79 669.61 809.50 669.70C810.21 669.79 810.89 669.87 811.52 669.95C812.15 670.02 812.74 670.09 813.28 670.14C813.81 670.20 814.29 670.25 814.69 670.29C815.10 670.34 815.44 670.37 815.70 670.40" stroke="#0000ff" stroke-dasharray="19.2 9.3 5.2 9.3" stroke-dashoffset="39.20"/>
<path d="M254.30 670.80C254.48 669.17 254.98 663.90 255.40 661.00C255.82 658.10 256.13 656.42 256.80 653.40C257.47 650.38 258.08 647.05 259.40 642.90C260.72 638.75 262.73 633.52 264.70 628.50C266.67 623.48 269.02 617.60 271.20 612.80C273.38 608.00 275.62 603.85 277.80 599.70C279.98 595.55 282.45 591.18 284.30 587.90C286.15 584.62 286.28 584.68 288.90 580.00C291.52 575.32 297.28 564.53 300.00 559.80C302.72 555.07 303.45 554.40 305.20 551.60C306.95 548.80 308.75 545.85 310.50 543.00C312.25 540.15 313.95 537.40 315.70 534.50C317.45 531.60 319.25 528.52 321.00 525.60C322.75 522.68 324.45 519.87 326.20 517.00C327.95 514.13 330.03 510.73 331.50 508.40C332.97 506.07 333.55 505.28 335.00 503.00C336.45 500.72 338.45 497.48 340.20 494.70C341.95 491.92 343.75 489.15 345.50 486.30C347.25 483.45 348.95 480.48 350.70 477.60C352.45 474.72 354.25 471.88 356.00 469.00C357.75 466.12 359.45 463.22 361.20 460.30C362.95 457.38 364.75 454.38 366.50 451.50C368.25 448.62 369.97 445.70 371.70 443.00C373.43 440.30 375.48 437.38 376.90 435.30C378.32 433.22 378.77 432.53 380.20 430.50C381.63 428.47 383.75 425.37 385.50 423.10C387.25 420.83 388.95 418.98 390.70 416.90C392.45 414.82 394.25 412.58 396.00 410.60C397.75 408.62 399.45 406.63 401.20 405.00C402.95 403.37 404.75 402.23 406.50 400.80C408.25 399.37 409.97 397.72 411.70 396.40C413.43 395.08 415.15 393.90 416.90 392.90C418.65 391.90 420.45 391.18 422.20 390.40C423.95 389.62 425.65 388.77 427.40 388.20C429.15 387.63 430.95 387.23 432.70 387.00C434.45 386.77 436.15 386.95 437.90 386.80C439.65 386.65 441.45 386.50 443.20 386.10C444.95 385.70 446.43 385.13 448.40 384.40C450.37 383.67 453.07 382.50 455.00 381.70C456.93 380.90 457.50 380.62 460.00 379.60C462.50 378.58 467.33 376.47 470.00 375.60C472.67 374.73 474.00 374.33 476.00 374.40C478.00 374.47 479.67 375.23 482.00 376.00C484.33 376.77 487.00 378.00 490.00 379.00C493.00 380.00 496.67 381.10 500.00 382.00C503.33 382.90 507.47 383.82 510.00 384.40C512.53 384.98 513.45 385.20 515.20 385.50C516.95 385.80 518.75 386.08 520.50 386.20C522.25 386.32 523.95 386.27 525.70 386.20C527.45 386.13 529.25 385.88 531.00 385.80C532.75 385.72 534.45 385.55 536.20 385.70C537.95 385.85 539.75 386.12 541.50 386.70C543.25 387.28 544.97 388.27 546.70 389.20C548.43 390.13 550.15 391.22 551.90 392.30C553.65 393.38 555.45 394.53 557.20 395.70C558.95 396.87 560.65 397.95 562.40 399.30C564.15 400.65 565.95 402.08 567.70 403.80C569.45 405.52 571.15 407.42 572.90 409.60C574.65 411.78 576.45 414.37 578.20 416.90C579.95 419.43 581.43 421.73 583.40 424.80C585.37 427.87 587.43 431.02 590.00 435.30C592.57 439.58 596.82 447.18 598.80 450.50C600.78 453.82 600.50 452.83 601.90 455.20C603.30 457.57 605.45 461.55 607.20 464.70C608.95 467.85 610.65 471.05 612.40 474.10C614.15 477.15 615.95 480.12 617.70 483.00C619.45 485.88 621.15 488.60 622.90 491.40C624.65 494.20 626.45 497.00 628.20 499.80C629.95 502.60 631.43 505.05 633.40 508.20C635.37 511.35 637.67 515.17 640.00 518.70C642.33 522.23 645.28 526.13 647.40 529.40C649.52 532.67 650.95 535.15 652.70 538.30C654.45 541.45 656.15 544.88 657.90 548.30C659.65 551.72 661.45 555.22 663.20 558.80C664.95 562.38 666.43 565.35 668.40 569.80C670.37 574.25 673.53 582.13 675.00 585.50C676.47 588.87 675.97 587.33 677.20 590.00C678.43 592.67 680.65 597.48 682.40 601.50C684.15 605.52 685.95 609.55 687.70 614.10C689.45 618.65 691.33 624.08 692.90 628.80C694.47 633.52 695.88 638.03 697.10 642.40C698.32 646.77 699.17 650.27 700.20 655.00C701.23 659.73 702.78 668.17 703.30 670.80" stroke="#ff4500"/>
</g>
<g fill="none" stroke-width="2.90">
<path d="M176.6 43.4H222" stroke="#000" stroke-dasharray="3.6 9.9"/>
<path d="M595.8 43.4H661.2" stroke="#0000ff"/>
<path d="M595.8 80.4H661.2" stroke="#0000ff" stroke-dasharray="19.2 9.3 5.2 9.3"/>
<path d="M595.8 117.5H661.2" stroke="#ff4500"/>
</g>
<g opacity="0.999" font-family="'Liberation Serif', serif" fill="#000" font-size="37">
<text x="131.7" y="34.2" text-anchor="end">1.5</text>
<text x="131.7" y="107.1" text-anchor="end">1.0</text>
<text x="131.7" y="189.6" text-anchor="end">0.5</text>
<text x="131.7" y="271.8" text-anchor="end">0.0</text>
<text x="131.7" y="340.8" text-anchor="end">−0.5</text>
<text x="131.7" y="420.0" text-anchor="end">0.2</text>
<text x="131.7" y="551.7" text-anchor="end">0.1</text>
<text x="131.7" y="669.9" text-anchor="end">0.0</text>
<text x="290.7" y="717.4" text-anchor="middle">−5</text>
<text x="478.7" y="717.4" text-anchor="middle">0</text>
<text x="665.9" y="717.4" text-anchor="middle">5</text>
<text x="479.5" y="757" text-anchor="middle"><tspan font-style="italic">z</tspan>/<tspan font-style="italic">H</tspan></text>
<text transform="translate(36,177.6) rotate(-90)" text-anchor="middle">mean(<tspan font-style="italic">B</tspan><tspan font-style="italic" font-size="23" dy="8">y</tspan><tspan dy="-8">)</tspan></text>
<text transform="translate(57.6,507.3) rotate(-90)" text-anchor="middle">rms(<tspan font-style="italic">B</tspan><tspan font-style="italic" font-size="23" dy="8">z</tspan><tspan dy="-8">)</tspan></text>
</g>
<g opacity="0.999" font-family="'Liberation Serif', serif" fill="#000" font-size="30">
<text x="246.2" y="52.5">Initial</text>
<text x="683.2" y="52.4">S3D_256</text>
<text x="684.6" y="89.6">Lz18</text>
<text x="683.2" y="126.6">S3D_512</text>
</g>
</svg>
</body></html>
